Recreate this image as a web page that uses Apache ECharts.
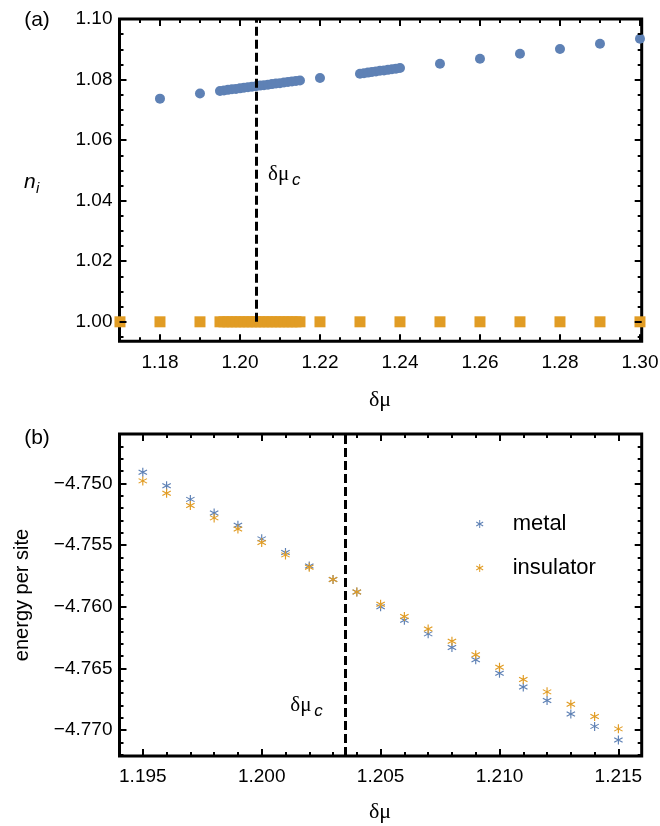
<!DOCTYPE html>
<html><head><meta charset="utf-8">
<script src="https://cdn.jsdelivr.net/npm/echarts@6/dist/echarts.min.js"></script>
<style>html,body{margin:0;padding:0;background:#fff}#c{width:660px;height:826px}</style>
</head><body><div id="c"></div>
<script>
// ---------- Panel (a) data ----------
const muMetalA = [1.18, 1.19,
  1.195, 1.196, 1.197, 1.198, 1.199, 1.200, 1.201, 1.202, 1.203, 1.204, 1.205,
  1.206, 1.207, 1.208, 1.209, 1.210, 1.211, 1.212, 1.213, 1.214, 1.215,
  1.22,
  1.230, 1.231, 1.232, 1.233, 1.234, 1.235, 1.236, 1.237, 1.238, 1.239, 1.240,
  1.25, 1.26, 1.27, 1.28, 1.29, 1.30];
const nMetalA = [1.0737, 1.0754,
  1.0762, 1.0764, 1.0766, 1.0768, 1.0769, 1.0771, 1.0773, 1.0775, 1.0776, 1.0778, 1.0780,
  1.0781, 1.0783, 1.0785, 1.0787, 1.0788, 1.0790, 1.0792, 1.0794, 1.0795, 1.0797,
  1.0805,
  1.0819, 1.0821, 1.0823, 1.0825, 1.0827, 1.0829, 1.0830, 1.0832, 1.0834, 1.0836, 1.0838,
  1.0852, 1.0869, 1.0885, 1.0901, 1.0918, 1.0935];
const muInsA = [1.17, 1.18, 1.19,
  1.195, 1.196, 1.197, 1.198, 1.199, 1.200, 1.201, 1.202, 1.203, 1.204, 1.205,
  1.206, 1.207, 1.208, 1.209, 1.210, 1.211, 1.212, 1.213, 1.214, 1.215,
  1.22, 1.23, 1.24, 1.25, 1.26, 1.27, 1.28, 1.29, 1.30];
const nInsA = [1.00, 1.00, 1.00,
  1.00, 1.00, 1.00, 1.00, 1.00, 1.00, 1.00, 1.00, 1.00, 1.00, 1.00,
  1.00, 1.00, 1.00, 1.00, 1.00, 1.00, 1.00, 1.00, 1.00, 1.00,
  1.00, 1.00, 1.00, 1.00, 1.00, 1.00, 1.00, 1.00, 1.00];
const xTicksA = [1.18, 1.20, 1.22, 1.24, 1.26, 1.28, 1.30];
const yTicksA = [1.00, 1.02, 1.04, 1.06, 1.08, 1.10];
const muCriticalA = 1.2040;

// ---------- Panel (b) data ----------
const muB = [1.195, 1.196, 1.197, 1.198, 1.199, 1.200, 1.201, 1.202, 1.203, 1.204, 1.205,
  1.206, 1.207, 1.208, 1.209, 1.210, 1.211, 1.212, 1.213, 1.214, 1.215];
const eMetalB = [-4.7491, -4.7502, -4.7513, -4.7524, -4.7534, -4.7545, -4.7556, -4.7567, -4.7578, -4.7588, -4.7600,
  -4.7611, -4.7622, -4.7633, -4.7643, -4.7654, -4.7665, -4.7676, -4.7687, -4.7697, -4.7708];
const eInsB = [-4.7498, -4.7508, -4.7518, -4.7528, -4.7537, -4.7548, -4.7558, -4.7568, -4.7578, -4.7588, -4.7598,
  -4.7608, -4.7618, -4.7628, -4.7639, -4.7649, -4.7659, -4.7669, -4.7679, -4.7689, -4.7699];
const xTicksB = [1.195, 1.200, 1.205, 1.210, 1.215];
const yTicksB = [-4.770, -4.765, -4.760, -4.755, -4.750];
const seriesNamesB = ['metal', 'insulator'];
const muCriticalB = 1.2035;

// ---------- styling ----------
const BLUE = '#5E81B5', ORANGE = '#E19C24';
const SANS = 'Liberation Sans, Arial, sans-serif';
const SERIF = 'Liberation Serif, Times New Roman, serif';
const AST = 'path://M44,0L56,0L56,100L44,100Z M3.7,69.8L90.3,19.8L96.3,30.2L9.7,80.2Z M9.7,19.8L96.3,69.8L90.3,80.2L3.7,30.2Z';

function minorList(lo, hi, step, majors) {
  const out = []; const n = Math.round((hi - lo) / step);
  for (let i = 0; i <= n; i++) {
    const v = +(lo + i * step).toFixed(6);
    if (!majors.some(m => Math.abs(m - v) < 1e-9)) out.push(v);
  }
  return out;
}
const fmt = d => v => { const s = (+v).toFixed(d); return s.replace('-', '\u2212'); };

function axisSet(dim, gridIndex, min, max, majors, minors, decimals, margin) {
  const pos = dim === 'x' ? ['bottom', 'top'] : ['left', 'right'];
  const res = [];
  pos.forEach((p, pi) => {
    res.push({
      type: 'value', gridIndex, min, max, position: p, z: 5,
      splitLine: { show: false }, axisLine: { show: false },
      axisTick: { show: true, inside: true, length: 7, lineStyle: { color: '#000', width: 2 }, customValues: majors },
      axisLabel: { show: pi === 0, customValues: majors, formatter: fmt(decimals), fontSize: 19,
        fontFamily: SANS, color: '#000', margin: margin }
    });
    res.push({
      type: 'value', gridIndex, min, max, position: p, z: 5,
      splitLine: { show: false }, axisLine: { show: false },
      axisTick: { show: true, inside: true, length: 4, lineStyle: { color: '#000', width: 2 }, customValues: minors },
      axisLabel: { show: false }
    });
  });
  return res;
}

const xMinA = 1.16988, xMaxA = 1.30043, yMinA = 0.99356, yMaxA = 1.1000;
const xMinB = 1.19402, xMaxB = 1.21598, yMinB = -4.7721, yMaxB = -4.7460;

const xAxes = [
  ...axisSet('x', 0, xMinA, xMaxA, xTicksA, minorList(1.17, 1.30, 0.005, xTicksA), 2, 12),
  ...axisSet('x', 1, xMinB, xMaxB, xTicksB, minorList(1.195, 1.215, 0.001, xTicksB), 3, 11)
];
const yAxes = [
  ...axisSet('y', 0, yMinA, yMaxA, yTicksA, minorList(0.995, 1.10, 0.005, yTicksA), 2, 7),
  ...axisSet('y', 1, yMinB, yMaxB, yTicksB, minorList(-4.772, -4.746, 0.001, yTicksB), 3, 7)
];

const zip = (a, b) => a.map((v, i) => [v, b[i]]);
const dashStyle = { color: '#000', width: 3, type: [9, 4] };
const chart = echarts.init(document.getElementById('c'), null, { renderer: 'canvas' });
chart.setOption({
  animation: false,
  backgroundColor: '#fff',
  grid: [
    { left: 119.5, top: 19, width: 522.2, height: 322.3, show: true, borderColor: '#000', borderWidth: 3, backgroundColor: 'transparent', outerBoundsMode: 'none', containLabel: false },
    { left: 119.5, top: 434, width: 522.2, height: 322, show: true, borderColor: '#000', borderWidth: 3, backgroundColor: 'transparent', outerBoundsMode: 'none', containLabel: false }
  ],
  xAxis: xAxes,
  yAxis: yAxes,
  legend: {
    show: true, orient: 'vertical', left: 471, top: 508, itemWidth: 56, itemHeight: 8, itemGap: 22,
    textStyle: { fontSize: 22, fontFamily: SANS, color: '#000' },
    data: [{ name: seriesNamesB[0], icon: AST }, { name: seriesNamesB[1], icon: AST }]
  },
  series: [
    { type: 'scatter', name: 'nA_metal', xAxisIndex: 0, yAxisIndex: 0, data: zip(muMetalA, nMetalA),
      symbol: 'circle', symbolSize: 10, itemStyle: { color: BLUE, opacity: 1 }, clip: true, silent: true },
    { type: 'scatter', name: 'nA_ins', xAxisIndex: 0, yAxisIndex: 0, data: zip(muInsA, nInsA),
      symbol: 'rect', symbolSize: 11, itemStyle: { color: ORANGE, opacity: 1 }, clip: true, silent: true,
      markLine: { silent: true, symbol: ['none', 'none'], label: { show: false }, lineStyle: dashStyle,
        data: [[{ coord: [muCriticalA, 1.0] }, { coord: [muCriticalA, 1.10] }]] } },
    { type: 'scatter', name: seriesNamesB[0], xAxisIndex: 4, yAxisIndex: 4, data: zip(muB, eMetalB),
      symbol: AST, symbolSize: 9, itemStyle: { color: BLUE, opacity: 1 }, clip: true, silent: true },
    { type: 'scatter', name: seriesNamesB[1], xAxisIndex: 4, yAxisIndex: 4, data: zip(muB, eInsB),
      symbol: AST, symbolSize: 9, itemStyle: { color: ORANGE, opacity: 1 }, clip: true, silent: true,
      markLine: { silent: true, symbol: ['none', 'none'], label: { show: false }, lineStyle: dashStyle,
        data: [[{ coord: [muCriticalB, yMinB] }, { coord: [muCriticalB, yMaxB] }]] } }
  ]
});

// annotations
const pA = chart.convertToPixel({ xAxisIndex: 0, yAxisIndex: 0 }, [1.207, 1.0488]);
const pB = chart.convertToPixel({ xAxisIndex: 4, yAxisIndex: 4 }, [1.2012, -4.76797]);
function muC(p) {
  return [
    { type: 'text', x: p[0], y: p[1], style: { text: '\u03B4\u03BC', fontSize: 21, fontFamily: SERIF, fill: '#000', align: 'left', verticalAlign: 'middle' } },
    { type: 'text', x: p[0] + 24, y: p[1] + 6, style: { text: 'c', fontSize: 17, fontFamily: SANS, fontStyle: 'italic', fill: '#000', align: 'left', verticalAlign: 'middle' } }
  ];
}
chart.setOption({
  graphic: [
    ...muC(pA), ...muC(pB),
    { type: 'text', x: 37, y: 20, style: { text: '(a)', fontSize: 21, fontFamily: SANS, fill: '#000', align: 'center', verticalAlign: 'middle' } },
    { type: 'text', x: 37, y: 438, style: { text: '(b)', fontSize: 21, fontFamily: SANS, fill: '#000', align: 'center', verticalAlign: 'middle' } },
    { type: 'text', x: 380, y: 400, style: { text: '\u03B4\u03BC', fontSize: 22, fontFamily: SERIF, fill: '#000', align: 'center', verticalAlign: 'middle' } },
    { type: 'text', x: 380, y: 812, style: { text: '\u03B4\u03BC', fontSize: 22, fontFamily: SERIF, fill: '#000', align: 'center', verticalAlign: 'middle' } },
    { type: 'text', x: 24, y: 182, style: { text: 'n', fontSize: 21, fontFamily: SANS, fontStyle: 'italic', fill: '#000', align: 'left', verticalAlign: 'middle' } },
    { type: 'text', x: 36, y: 189, style: { text: 'i', fontSize: 15, fontFamily: SANS, fontStyle: 'italic', fill: '#000', align: 'left', verticalAlign: 'middle' } },
    { type: 'text', x: 22, y: 595, rotation: Math.PI / 2, style: { text: 'energy per site', fontSize: 20, fontFamily: SANS, fill: '#000', align: 'center', verticalAlign: 'middle' } }
  ]
});
</script></body></html>
